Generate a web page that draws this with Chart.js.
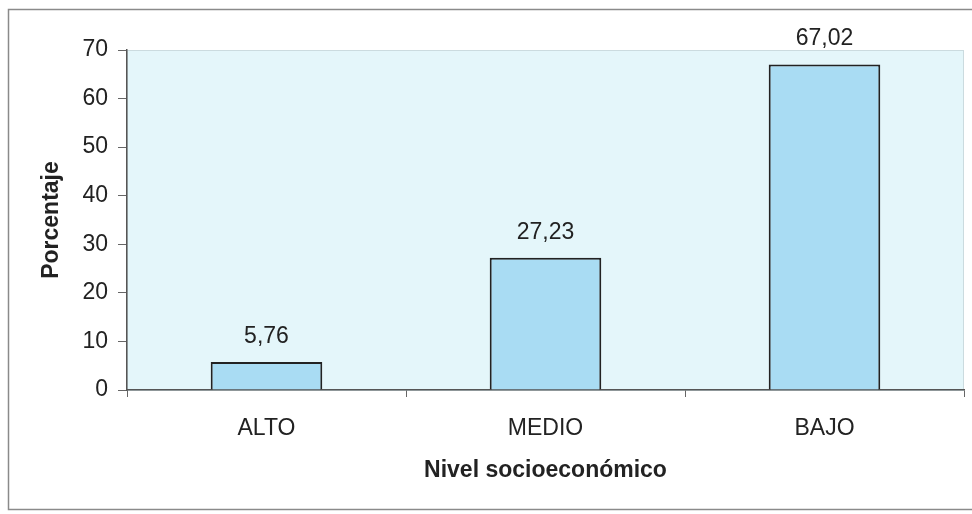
<!DOCTYPE html>
<html>
<head>
<meta charset="utf-8">
<title>Nivel socioeconómico</title>
<script src="https://cdn.jsdelivr.net/npm/chart.js@4/dist/chart.umd.min.js"></script>
<style>
    html, body { margin: 0; padding: 0; background: #ffffff; }
    #wrap { width: 972px; height: 514px; position: relative; }
</style>
</head>
<body>
<div id="wrap"><canvas id="myChart"></canvas></div>
<script>

const categories = ['ALTO', 'MEDIO', 'BAJO']
const percentages = [5.76, 27.23, 67.02]
const yTicks = [0, 10, 20, 30, 40, 50, 60, 70]

// plot background + outer frame
const frame = {
    id: 'frame',
    beforeDraw: (chart) => {
        const ctx = chart.ctx
        const a = chart.chartArea
        ctx.save()
        ctx.fillStyle = '#e4f6fa'
        ctx.fillRect(a.left, a.top, a.right - a.left, a.bottom - a.top)
        ctx.strokeStyle = '#cbdbdf'
        ctx.lineWidth = 1
        ctx.strokeRect(a.left + 0.5, a.top + 0.5, a.right - a.left - 1, a.bottom - a.top)
        ctx.strokeStyle = '#8a8a8a'
        ctx.lineWidth = 1.5
        ctx.strokeRect(8.5, 9.5, 975, 500)
        ctx.restore()
    }
}

// value labels over the bars, comma decimals
const valueLabels = {
    id: 'valueLabels',
    afterDatasetsDraw: (chart) => {
        const ctx = chart.ctx
        const meta = chart.getDatasetMeta(0)
        ctx.save()
        ctx.font = '23px "Liberation Sans", Arial, sans-serif'
        ctx.fillStyle = '#222222'
        ctx.textAlign = 'center'
        ctx.textBaseline = 'alphabetic'
        meta.data.forEach((bar, i) => {
            const txt = percentages[i].toFixed(2).replace('.', ',')
            ctx.fillText(txt, bar.x, bar.y - 19)
        })
        ctx.restore()
    }
}

const data = {
    labels: categories,
    datasets: [{
        label: 'Porcentaje',
        data: percentages,
        backgroundColor: '#a9dcf3',
        borderColor: '#222222',
        borderWidth: 2,
        barPercentage: 0.4,
        categoryPercentage: 1
    }]
}

const config = {
    type: 'bar',
    data: data,
    options: {
        responsive: true,
        maintainAspectRatio: false,
        animation: false,
        layout: {
            padding: { top: 50, right: 8, bottom: 0, left: 0 }
        },
        plugins: {
            legend: { display: false },
            tooltip: { enabled: false }
        },
        scales: {
            x: {
                grid: {
                    drawOnChartArea: false,
                    tickLength: 7,
                    color: '#666666'
                },
                border: { color: '#555555', width: 1.5 },
                ticks: {
                    padding: 18,
                    color: '#222222',
                    font: { family: '"Liberation Sans", Arial, sans-serif', size: 23 }
                },
                title: {
                    display: true,
                    text: 'Nivel socioeconómico',
                    color: '#222222',
                    padding: { top: 0, bottom: 30 },
                    font: { family: '"Liberation Sans", Arial, sans-serif', size: 23, weight: 'bold' }
                },
                afterFit: (scale) => { scale.height = 124 }
            },
            y: {
                min: 0,
                max: 70,
                afterBuildTicks: (scale) => {
                    scale.ticks = yTicks.map(v => ({ value: v }))
                },
                grid: {
                    drawOnChartArea: false,
                    tickLength: 9,
                    color: '#666666'
                },
                border: { color: '#555555', width: 1.5 },
                ticks: {
                    padding: 10,
                    color: '#222222',
                    font: { family: '"Liberation Sans", Arial, sans-serif', size: 23 }
                },
                title: {
                    display: true,
                    text: 'Porcentaje',
                    color: '#222222',
                    padding: { top: 38, bottom: 0 },
                    font: { family: '"Liberation Sans", Arial, sans-serif', size: 23, weight: 'bold' }
                },
                afterFit: (scale) => { scale.width = 127 }
            }
        }
    },
    plugins: [frame, valueLabels]
}

let chartCanvas = new Chart(
    document.querySelector('#myChart'),
    config
)

</script>
</body>
</html>
